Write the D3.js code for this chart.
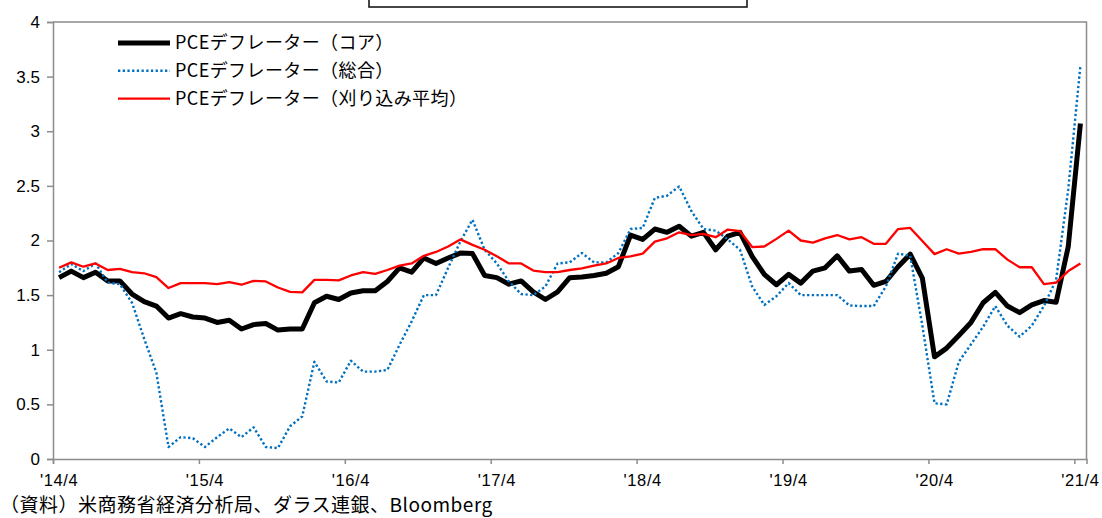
<!DOCTYPE html>
<html>
<head>
<meta charset="utf-8">
<script src="https://cdn.jsdelivr.net/npm/d3@7/dist/d3.min.js"></script>
<style>
  html, body { margin: 0; padding: 0; background: #fff; }
  svg { display: block; }
</style>
</head>
<body>
<svg id="chart" width="1102" height="518"></svg>
<script>
// Monthly year-on-year rates (%), April 2014 – April 2021
const startYear = 2014, startMonth = 4, monthCount = 85;

const coreValues = [
  1.66, 1.72, 1.66, 1.71, 1.63, 1.63, 1.51, 1.44, 1.40, 1.29, 1.33, 1.30,
  1.29, 1.25, 1.27, 1.19, 1.23, 1.24, 1.18, 1.19, 1.19, 1.43, 1.49, 1.46,
  1.52, 1.54, 1.54, 1.625, 1.75, 1.71, 1.84, 1.79, 1.84, 1.885, 1.88, 1.68,
  1.66, 1.60, 1.63, 1.53, 1.46, 1.53, 1.66, 1.665, 1.68, 1.70, 1.76, 2.05,
  2.01, 2.105, 2.075, 2.13, 2.04, 2.075, 1.915, 2.04, 2.075, 1.855, 1.69, 1.595,
  1.69, 1.61, 1.72, 1.75, 1.86, 1.72, 1.735, 1.59, 1.625, 1.76, 1.875, 1.655,
  0.935, 1.015, 1.13, 1.25, 1.43, 1.525, 1.40, 1.34, 1.41, 1.45, 1.435, 1.945,
  3.07
];

const headlineValues = [
  1.71, 1.785, 1.72, 1.79, 1.615, 1.60, 1.43, 1.10, 0.79, 0.11, 0.20, 0.19,
  0.11, 0.20, 0.28, 0.20, 0.29, 0.11, 0.10, 0.30, 0.39, 0.89, 0.71, 0.70,
  0.90, 0.80, 0.80, 0.815, 1.045, 1.26, 1.50, 1.50, 1.75, 1.99, 2.19, 1.915,
  1.79, 1.625, 1.51, 1.50, 1.58, 1.79, 1.80, 1.885, 1.80, 1.80, 1.885, 2.105,
  2.115, 2.39, 2.41, 2.495, 2.27, 2.105, 2.09, 2.01, 1.915, 1.58, 1.41, 1.49,
  1.61, 1.50, 1.50, 1.50, 1.50, 1.405, 1.40, 1.40, 1.58, 1.88, 1.86, 1.22,
  0.51, 0.50, 0.89, 1.05, 1.21, 1.40, 1.22, 1.12, 1.22, 1.40, 1.64, 2.47,
  3.60
];

const trimmedValues = [
  1.75, 1.80, 1.76, 1.79, 1.73, 1.74, 1.71, 1.70, 1.665, 1.565, 1.61, 1.61,
  1.61, 1.60, 1.62, 1.595, 1.63, 1.625, 1.57, 1.53, 1.525, 1.64, 1.64, 1.635,
  1.68, 1.71, 1.695, 1.73, 1.77, 1.79, 1.86, 1.895, 1.945, 2.01, 1.96, 1.915,
  1.855, 1.79, 1.79, 1.725, 1.71, 1.71, 1.73, 1.745, 1.77, 1.79, 1.84, 1.855,
  1.88, 1.99, 2.02, 2.075, 2.05, 2.06, 2.03, 2.10, 2.085, 1.94, 1.945, 2.015,
  2.09, 2.00, 1.98, 2.02, 2.05, 2.01, 2.03, 1.97, 1.97, 2.105, 2.115, 1.995,
  1.875, 1.92, 1.88, 1.895, 1.92, 1.92, 1.825, 1.755, 1.755, 1.60, 1.615, 1.72,
  1.79
];

const seriesNames = [
  "PCEデフレーター（コア）",
  "PCEデフレーター（総合）",
  "PCEデフレーター（刈り込み平均）"
];

const xTickLabels = ["'14/4", "'15/4", "'16/4", "'17/4", "'18/4", "'19/4", "'20/4", "'21/4"];
const yTickValues = [0, 0.5, 1, 1.5, 2, 2.5, 3, 3.5, 4];
const sourceNote = "（資料）米商務省経済分析局、ダラス連銀、Bloomberg";

// Category keys: "YYYY/M" for every month in the range
const categories = d3.range(monthCount).map(i => {
  const m = startMonth - 1 + i;
  return `${startYear + Math.floor(m / 12)}/${(m % 12) + 1}`;
});

const svg = d3.select("#chart");
const plot = { left: 53, right: 1086.5, top: 22, bottom: 459 };
const axisColor = "#8c8c8c";

const x = d3.scaleBand().domain(categories).range([plot.left, plot.right]).padding(0);
const xEdge = d3.scaleLinear().domain([0, monthCount]).range([plot.left, plot.right]);
const y = d3.scaleLinear().domain([0, 4]).range([plot.bottom, plot.top]);
const cx = c => x(c) + x.bandwidth() / 2;

// Title box (top edge runs off the page)
svg.append("rect")
  .attr("x", 369).attr("y", -30).attr("width", 378).attr("height", 37)
  .attr("fill", "#fff").attr("stroke", "#1a1a1a").attr("stroke-width", 1.6);

// Plot frame: top and right edges
svg.append("path")
  .attr("d", `M${plot.left},${plot.top}H${plot.right}V${plot.bottom}`)
  .attr("fill", "none").attr("stroke", axisColor).attr("stroke-width", 1.5);

// Y axis
const yAxis = svg.append("g")
  .attr("transform", `translate(${plot.left},0)`)
  .call(d3.axisLeft(y).tickValues(yTickValues).tickFormat(d => String(d)).tickSize(6).tickPadding(7));
yAxis.select(".domain").attr("stroke", axisColor).attr("stroke-width", 1.5);
yAxis.selectAll(".tick line").attr("stroke", axisColor).attr("stroke-width", 1.5);
yAxis.selectAll(".tick text")
  .attr("fill", "#000")
  .style("font-family", "'Liberation Sans', Arial, sans-serif")
  .style("font-size", "17px");

// X axis: tick marks on category boundaries
const aprilIdx = categories.map((c, i) => i).filter(i => i % 12 === 0);
const xTicks = svg.append("g")
  .attr("transform", `translate(0,${plot.bottom})`)
  .call(d3.axisBottom(xEdge).tickValues(aprilIdx).tickFormat("").tickSize(5));
xTicks.select(".domain").attr("stroke", axisColor).attr("stroke-width", 1.5);
xTicks.selectAll(".tick line").attr("stroke", axisColor).attr("stroke-width", 1.5);

// X axis labels centred under the April categories
const labelMap = new Map(aprilIdx.map((i, k) => [categories[i], xTickLabels[k]]));
const xLabels = svg.append("g")
  .attr("transform", `translate(0,${plot.bottom})`)
  .call(d3.axisBottom(x).tickValues(aprilIdx.map(i => categories[i]))
    .tickFormat(c => labelMap.get(c)).tickSize(0).tickPadding(15));
xLabels.select(".domain").remove();
xLabels.selectAll(".tick text")
  .attr("fill", "#000")
  .style("font-family", "'Liberation Sans', Arial, sans-serif")
  .style("font-size", "16.5px")
  .style("letter-spacing", "0.6px");

// Series
const series = [
  { name: seriesNames[0], values: coreValues, color: "#000000", width: 5, dash: null },
  { name: seriesNames[1], values: headlineValues, color: "#0070C0", width: 2.4, dash: "2.3,2.4" },
  { name: seriesNames[2], values: trimmedValues, color: "#FF0000", width: 2.3, dash: null }
];

const line = d3.line().x((d, i) => cx(categories[i])).y(d => y(d));

svg.append("g").selectAll("path")
  .data(series)
  .join("path")
  .attr("d", s => line(s.values))
  .attr("fill", "none")
  .attr("stroke", s => s.color)
  .attr("stroke-width", s => s.width)
  .attr("stroke-dasharray", s => s.dash)
  .attr("stroke-linejoin", "round");

// Legend
const legend = svg.append("g").attr("transform", "translate(118,43)");
const rows = legend.selectAll("g").data(series).join("g")
  .attr("transform", (d, i) => `translate(0,${i * 27.8})`);
rows.append("line")
  .attr("x1", 0).attr("x2", 52).attr("y1", 0).attr("y2", 0)
  .attr("stroke", d => d.color)
  .attr("stroke-width", d => d.width)
  .attr("stroke-dasharray", d => d.dash);
rows.append("text")
  .attr("x", 57).attr("y", 0).attr("dy", "0.36em")
  .style("font-family", "'Noto Sans CJK JP', sans-serif")
  .style("font-size", "18px")
  .style("letter-spacing", "0.4px")
  .attr("fill", "#000")
  .text(d => d.name);

// Source note
svg.append("text")
  .attr("x", 0).attr("y", 512)
  .style("font-family", "'Noto Sans CJK JP', sans-serif")
  .style("font-size", "19px")
  .style("letter-spacing", "0.5px")
  .attr("fill", "#000")
  .text(sourceNote);
</script>
</body>
</html>
